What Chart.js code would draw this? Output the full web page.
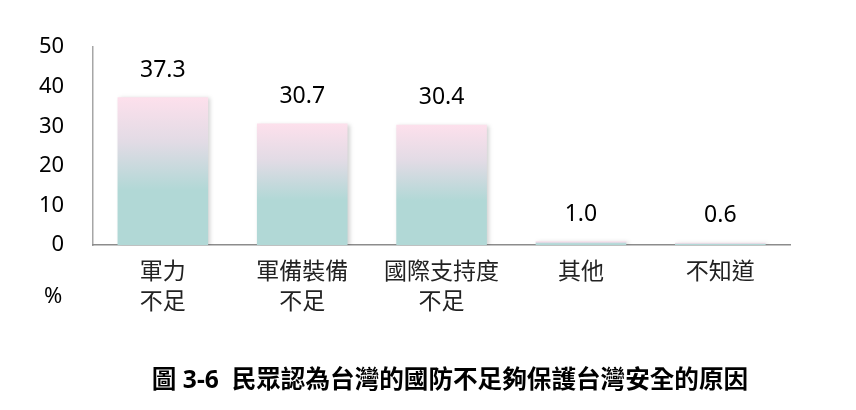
<!DOCTYPE html>
<html>
<head>
<meta charset="utf-8">
<script src="https://cdn.jsdelivr.net/npm/chart.js@4"></script>
<style>
  html, body { margin: 0; padding: 0; background: #fff; }
  #wrap { width: 856px; height: 410px; }
</style>
</head>
<body>
<div id="wrap"><canvas id="barChart" width="856" height="410"></canvas></div>
<script>
const categories = [
  ['軍力', '不足'],
  ['軍備裝備', '不足'],
  ['國際支持度', '不足'],
  '其他',
  '不知道'
];
const values = [37.3, 30.7, 30.4, 1.0, 0.6];
const yTicks = [0, 10, 20, 30, 40, 50];

const chartTitle = '圖 3-6  民眾認為台灣的國防不足夠保護台灣安全的原因';
const fontFamily = '"Noto Sans", "Noto Sans CJK TC", sans-serif';

// gradient per bar: pink on top, teal at the bottom
function barGradient(context) {
  const chart = context.chart;
  const area = chart.chartArea;
  if (!area || context.dataIndex === undefined) return '#b1d8d6';
  const y = chart.scales.y;
  const top = y.getPixelForValue(values[context.dataIndex]);
  const bottom = y.getPixelForValue(0);
  if (bottom - top < 1) return '#f6dde6';
  const g = chart.ctx.createLinearGradient(0, top, 0, bottom);
  g.addColorStop(0, '#fde0ec');
  g.addColorStop(0.3, '#e2dbe5');
  g.addColorStop(0.63, '#b1d8d6');
  g.addColorStop(1, '#b1d8d6');
  return g;
}

const valueLabels = {
  id: 'valueLabels',
  afterDatasetsDraw(chart) {
    const ctx = chart.ctx;
    ctx.save();
    ctx.font = '23px ' + fontFamily;
    ctx.fillStyle = '#000';
    ctx.textAlign = 'center';
    ctx.textBaseline = 'middle';
    chart.getDatasetMeta(0).data.forEach((bar, i) => {
      ctx.fillText(values[i].toFixed(1), bar.x, bar.y - 27);
    });
    // unit label under the y axis
    ctx.font = '22px ' + fontFamily;
    ctx.fillText('%', chart.chartArea.left - 40, chart.chartArea.bottom + 52);
    // caption under the chart
    ctx.font = 'bold 24.6px ' + fontFamily;
    ctx.fillText(chartTitle, 450, chart.chartArea.bottom + 136);
    ctx.restore();
  }
};

const barShadow = {
  id: 'barShadow',
  beforeDatasetsDraw(chart) {
    const ctx = chart.ctx;
    ctx.save();
    ctx.shadowColor = 'rgba(0,0,0,0.18)';
    ctx.shadowBlur = 4;
    ctx.shadowOffsetX = 2;
    ctx.shadowOffsetY = 1;
  },
  afterDatasetsDraw(chart) {
    chart.ctx.restore();
  }
};

new Chart(document.getElementById('barChart'), {
  type: 'bar',
  data: {
    labels: categories,
    datasets: [{
      data: values,
      backgroundColor: barGradient,
      borderWidth: 0,
      barPercentage: 0.65,
      categoryPercentage: 1
    }]
  },
  options: {
    responsive: false,
    animation: false,
    layout: {
      padding: { top: 47, right: 66, left: 10, bottom: 81 }
    },
    scales: {
      y: {
        min: 0,
        max: 50,
        afterBuildTicks(axis) {
          axis.ticks = yTicks.map(v => ({ value: v }));
        },
        grid: { display: false, drawTicks: false },
        border: { display: true, color: '#a6a6a6', width: 1.5 },
        ticks: {
          color: '#000',
          padding: 29,
          font: { family: fontFamily, size: 22 }
        }
      },
      x: {
        grid: { display: false, drawTicks: false },
        border: { display: true, color: '#8c8c8c', width: 1.5 },
        ticks: {
          color: '#222',
          padding: 12,
          font: { family: fontFamily, size: 23, lineHeight: 1.3 }
        }
      }
    },
    plugins: {
      legend: { display: false },
      tooltip: { enabled: false },
      title: { display: false }
    }
  },
  plugins: [barShadow, valueLabels]
});
</script>
</body>
</html>
